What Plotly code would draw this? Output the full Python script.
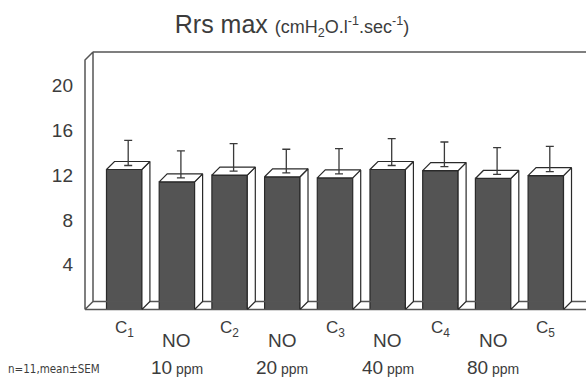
import plotly.graph_objects as go

# ---------------- data ----------------
categories = ["C1", "NO 10 ppm", "C2", "NO 20 ppm", "C3", "NO 40 ppm", "C4", "NO 80 ppm", "C5"]
values = [12.5, 11.4, 12.0, 11.85, 11.75, 12.5, 12.4, 11.7, 11.95]
sem = [2.25, 2.4, 2.45, 2.1, 2.25, 2.4, 2.2, 2.4, 2.25]
control_labels = ["C<sub>1</sub>", "C<sub>2</sub>", "C<sub>3</sub>", "C<sub>4</sub>", "C<sub>5</sub>"]
no_doses = ["10", "20", "40", "80"]
y_ticks = [4, 8, 12, 16, 20]

# ---------------- geometry ----------------
W, H = 586, 378
L, R, T, B = 80, 0, 45, 63
X0_PX, PITCH = 124.2, 52.7      # pixel of category 0, pixels per category
Y0_PX, UNIT = 309.5, 11.2       # pixel of value 0 (front floor), pixels per unit
xrange = [(L - X0_PX) / PITCH, (W - R - X0_PX) / PITCH]
yrange = [(Y0_PX - (H - B)) / UNIT, (Y0_PX - T) / UNIT]
DX, DY = 8 / PITCH, 8 / UNIT    # 3D depth
BAR_W = 0.672
WALL_X = (85 - X0_PX) / PITCH
WALL_TOP = (Y0_PX - 60) / UNIT
FAR = xrange[1] + 1

FONT = "Liberation Sans, Arial, Helvetica, sans-serif"
TXT = "#3c3c3c"
EDGE = "#2a2a2a"
FRAME = "#555555"

xs = list(range(len(values)))
fig = go.Figure()

# frame: floor and back wall
fig.add_trace(go.Scatter(x=[WALL_X, FAR, None, WALL_X + DX, FAR, None, WALL_X + DX, FAR],
                         y=[0, 0, None, DY, DY, None, WALL_TOP + DY, WALL_TOP + DY],
                         mode="lines", line=dict(color=FRAME, width=1.5), hoverinfo="skip",
                         cliponaxis=False))
# left wall slab
fig.add_trace(go.Scatter(x=[WALL_X, WALL_X, WALL_X + DX, WALL_X + DX, WALL_X],
                         y=[0, WALL_TOP, WALL_TOP + DY, DY, 0],
                         mode="lines", fill="toself", fillcolor="white",
                         line=dict(color=FRAME, width=1.5), hoverinfo="skip"))

# front faces
fig.add_trace(go.Bar(x=xs, y=values, width=BAR_W,
                     marker=dict(color="#545454", line=dict(color=EDGE, width=1.2)),
                     hoverinfo="skip"))

# top and side faces
top_x, top_y, side_x, side_y = [], [], [], []
for i, v in zip(xs, values):
    xl, xr = i - BAR_W / 2, i + BAR_W / 2
    top_x += [xl, xr, xr + DX, xl + DX, xl, None]
    top_y += [v, v, v + DY, v + DY, v, None]
    side_x += [xr, xr + DX, xr + DX, xr, xr, None]
    side_y += [0, DY, v + DY, v, 0, None]
for px_, py_ in ((side_x, side_y), (top_x, top_y)):
    fig.add_trace(go.Scatter(x=px_, y=py_, mode="lines", fill="toself", fillcolor="white",
                             line=dict(color=EDGE, width=1.2), hoverinfo="skip"))

# error bars (from the centre of the top face)
fig.add_trace(go.Scatter(x=[i + DX / 2 for i in xs], y=[v + DY / 2 for v in values],
                         mode="markers", marker=dict(size=1, opacity=0),
                         error_y=dict(type="data", symmetric=False, array=sem,
                                      arrayminus=[0] * len(sem), width=4,
                                      thickness=1.3, color="#3a3a3a"),
                         hoverinfo="skip"))

def paper_y(px):
    return (H - B - px) / (H - B - T)

ann = []
for k, lab in enumerate(control_labels):
    ann.append(dict(x=2 * k, y=paper_y(329), xref="x", yref="paper", text=lab,
                    showarrow=False, font=dict(size=17, color=TXT, family=FONT),
                    xanchor="center", yanchor="middle"))
for k, dose in enumerate(no_doses):
    ann.append(dict(x=2 * k + 1, y=paper_y(340), xref="x", yref="paper", text="NO",
                    showarrow=False, font=dict(size=19, color=TXT, family=FONT),
                    xanchor="center", yanchor="middle"))
    ann.append(dict(x=2 * k + 1, y=paper_y(367), xref="x", yref="paper",
                    text=dose + "<span style='font-size:14px'> ppm</span>",
                    showarrow=False, font=dict(size=19, color=TXT, family=FONT),
                    xanchor="center", yanchor="middle"))
ann.append(dict(x=(6 - L) / (W - L - R), y=paper_y(369), xref="paper", yref="paper",
                text="n=11,mean±SEM", showarrow=False, xanchor="left", yanchor="middle",
                font=dict(size=11.5, color=TXT,
                          family="Liberation Sans Narrow, DejaVu Sans Condensed, Arial Narrow, sans-serif")))

fig.update_layout(
    width=W, height=H,
    margin=dict(l=L, r=R, t=T, b=B),
    paper_bgcolor="white", plot_bgcolor="white",
    showlegend=False,
    font=dict(family=FONT, color=TXT),
    title=dict(text="Rrs max <span style='font-size:18px'>(cmH<sub>2</sub>O.l<sup>-1</sup>.sec<sup>-1</sup>)</span>",
               x=292 / W, xanchor="center", y=1 - 24 / H, yanchor="middle", yref="container",
               font=dict(size=25, color=TXT, family=FONT)),
    xaxis=dict(range=xrange, visible=False, fixedrange=True),
    yaxis=dict(range=yrange, tickvals=y_ticks, ticktext=[str(t) for t in y_ticks],
               showgrid=False, zeroline=False, showline=False, ticks="", fixedrange=True,
               tickfont=dict(size=19, color=TXT, family=FONT), ticklabelstandoff=6),
    annotations=ann,
)

fig.write_html("out.html", config={"displayModeBar": False},
               post_script="document.body.style.margin='0';")
